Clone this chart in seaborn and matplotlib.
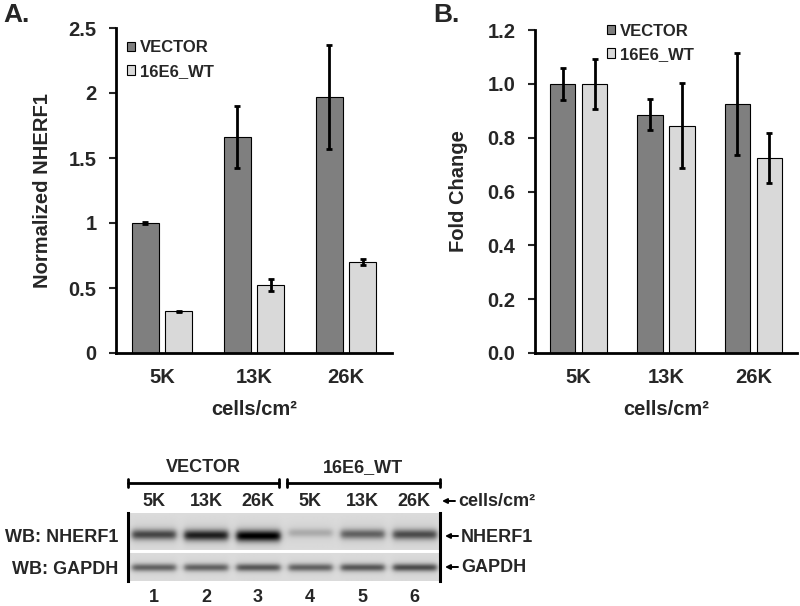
import numpy as np
import pandas as pd
import matplotlib
matplotlib.use("Agg")
import matplotlib.pyplot as plt
from matplotlib.patches import Patch
import seaborn as sns

# categories
densities = ["5K", "13K", "26K"]
groups = ["VECTOR", "16E6_WT"]

# panel A: normalized NHERF1 (mean, error)
a_vector = [1.00, 1.66, 1.97]
a_vector_err = [0.005, 0.24, 0.40]
a_wt = [0.32, 0.52, 0.70]
a_wt_err = [0.006, 0.046, 0.022]

# panel B: fold change (mean, error)
b_vector = [1.00, 0.885, 0.924]
b_vector_err = [0.06, 0.057, 0.19]
b_wt = [1.00, 0.845, 0.724]
b_wt_err = [0.093, 0.158, 0.093]

a_ticks = [0, 0.5, 1, 1.5, 2, 2.5]
a_ticklabels = ["0", "0.5", "1", "1.5", "2", "2.5"]
b_ticks = [0.0, 0.2, 0.4, 0.6, 0.8, 1.0, 1.2]
b_ticklabels = ["0.0", "0.2", "0.4", "0.6", "0.8", "1.0", "1.2"]

# western blot: band darkness per lane (0 = no band, 1 = black)
lane_numbers = ["1", "2", "3", "4", "5", "6"]
lane_density = densities * 2
nherf1_band = [0.52, 0.66, 0.78, 0.16, 0.42, 0.50]
gapdh_band = [0.44, 0.44, 0.48, 0.44, 0.48, 0.52]

dark = "#7f7f7f"
light = "#d9d9d9"

sns.set_style("white")
plt.rcParams["font.family"] = ["Liberation Sans", "DejaVu Sans"]
plt.rcParams["font.weight"] = "bold"
plt.rcParams["axes.labelweight"] = "bold"

W, H = 800, 606
fig = plt.figure(figsize=(W / 100, H / 100), dpi=100)


def box(l, t, r, b):
    return [l / W, 1 - b / H, (r - l) / W, (b - t) / H]


def bar_panel(ax, vec, vec_err, wt, wt_err):
    df = pd.DataFrame({
        "density": densities * 2,
        "group": [groups[0]] * 3 + [groups[1]] * 3,
        "value": vec + wt,
    })
    sns.barplot(data=df, x="density", y="value", hue="group", order=densities,
                hue_order=groups, palette=[dark, light], width=0.73, gap=0.2,
                edgecolor="black", linewidth=0.8, errorbar=None, legend=False, ax=ax)
    for cont, errs in zip(ax.containers, [vec_err, wt_err]):
        for bar, e in zip(cont, errs):
            ax.errorbar(bar.get_x() + bar.get_width() / 2, bar.get_height(), yerr=e,
                        fmt="none", ecolor="black", elinewidth=2, capsize=2.5, capthick=2)
    sns.despine(ax=ax)
    for s in ["left", "bottom"]:
        ax.spines[s].set_linewidth(2)
        ax.spines[s].set_color("black")
    ax.tick_params(axis="y", left=True, length=5, width=1.5, labelsize=14.5, pad=9)
    ax.tick_params(axis="x", length=0, labelsize=14.5, pad=11)
    ax.set_xlabel("cells/cm²", fontsize=14.5, labelpad=9)
    ax.set_xlim(-0.5, 2.5)
    handles = [Patch(facecolor=dark, edgecolor="black", linewidth=0.8),
               Patch(facecolor=light, edgecolor="black", linewidth=0.8)]
    return handles


leg_kw = dict(loc="upper left", frameon=False, borderaxespad=0, borderpad=0,
              handlelength=0.5, handleheight=0.5, handletextpad=0.25,
              labelspacing=0.5, prop={"size": 12, "weight": "bold"})

# panel A
axA = fig.add_axes(box(116, 28, 392, 353))
hA = bar_panel(axA, a_vector, a_vector_err, a_wt, a_wt_err)
axA.set_ylim(0, 2.5)
axA.set_yticks(a_ticks, a_ticklabels)
axA.set_ylabel("Normalized NHERF1", fontsize=14.5, labelpad=12)
axA.legend(hA, groups, bbox_to_anchor=(0.04, 0.962), **leg_kw)

# panel B
axB = fig.add_axes(box(535, 30, 797, 353))
hB = bar_panel(axB, b_vector, b_vector_err, b_wt, b_wt_err)
axB.set_ylim(0, 1.2)
axB.set_yticks(b_ticks, b_ticklabels)
axB.set_ylabel("Fold Change", fontsize=14.5, labelpad=14)
axB.legend(hB, groups, bbox_to_anchor=(0.275, 1.02), **leg_kw)

fig.text(3 / W, 1 - 15 / H, "A.", fontsize=19, fontweight="bold", va="center", ha="left")
fig.text(433 / W, 1 - 15 / H, "B.", fontsize=19, fontweight="bold", va="center", ha="left")

# western blot image (rows in pixels, columns in lanes)
nrow, ncol = 68, 312
xs = (np.arange(ncol) + 0.5) / ncol * 6
ys = np.arange(nrow) + 0.5
X, Y = np.meshgrid(xs, ys)
img = np.full((nrow, ncol), 0.86)
img[:38] -= 0.015 * np.exp(-((Y[:38] - 21) / 12) ** 2)
for i in range(6):
    c = i + 0.5
    prof = 0.5 * (np.tanh((X - (c - 0.42)) / 0.06) - np.tanh((X - (c + 0.42)) / 0.06))
    yc = 19 + 5 * nherf1_band[i]
    top = nherf1_band[i] * np.exp(-((Y - yc) / (4.0 + 2.0 * nherf1_band[i])) ** 2)
    halo = 0.10 * nherf1_band[i] * np.exp(-((Y - yc) / 11) ** 2)
    img -= (top + halo) * prof * (Y < 38)
    bot = gapdh_band[i] * np.exp(-((Y - 54.5) / 3.8) ** 2)
    halo2 = 0.08 * gapdh_band[i] * np.exp(-((Y - 54.5) / 9) ** 2)
    img -= (bot + halo2) * prof * (Y > 40)
img[37:40] = 1.0
img = np.clip(img, 0, 1)

axW = fig.add_axes(box(128, 513, 440, 581))
axW.imshow(img, cmap="gray", vmin=0, vmax=1, extent=(0, 6, nrow, 0),
           aspect="auto", interpolation="bilinear")
axW.set_xlim(0, 6)
axW.set_ylim(nrow, 0)
axW.set_xticks([])
axW.set_yticks([])
for s in ["top", "bottom"]:
    axW.spines[s].set_visible(False)
for s in ["left", "right"]:
    axW.spines[s].set_visible(True)
    axW.spines[s].set_linewidth(2.2)
    axW.spines[s].set_color("black")

fs = 13
lane_px = 312 / 6
for i in range(6):
    axW.text(i + 0.5, 502 - 513, lane_density[i], ha="center", va="center",
             fontsize=fs, fontweight="bold", clip_on=False)
    axW.text(i + 0.5, 597 - 513, lane_numbers[i], ha="center", va="center",
             fontsize=fs, fontweight="bold", clip_on=False)

# group brackets
br_y = 483 - 513
spans = [(0, (279 - 128) / lane_px), ((287 - 128) / lane_px, 6)]
for (x0, x1), g in zip(spans, groups):
    axW.plot([x0, x1], [br_y, br_y], color="black", lw=2, clip_on=False)
    for xe in (x0, x1):
        axW.plot([xe, xe], [br_y - 4, br_y + 4], color="black", lw=2, clip_on=False)
    axW.text((x0 + x1) / 2, 468 - 513, g, ha="center", va="center",
             fontsize=fs, fontweight="bold", clip_on=False)

# right-hand markers with arrows
markers = [("cells/cm²", 502, 442), ("NHERF1", 537, 445), ("GAPDH", 568, 445)]
for label, ypix, xpix in markers:
    x_tip = (xpix - 128) / lane_px
    x_tail = (xpix + 13 - 128) / lane_px
    axW.annotate("", xy=(x_tip, ypix - 513 - 1), xytext=(x_tail, ypix - 513 - 1),
                 arrowprops=dict(arrowstyle="-|>", color="black", lw=1.4,
                                 mutation_scale=7, shrinkA=0, shrinkB=0),
                 annotation_clip=False)
    axW.text((xpix + 16 - 128) / lane_px, ypix - 513, label, ha="left", va="center",
             fontsize=fs, fontweight="bold", clip_on=False)

lx = (118 - 128) / lane_px
axW.text(lx, 537 - 513, "WB: NHERF1", ha="right", va="center", fontsize=fs,
         fontweight="bold", clip_on=False)
axW.text(lx, 570 - 513, "WB: GAPDH", ha="right", va="center", fontsize=fs,
         fontweight="bold", clip_on=False)

fig.savefig("out.png", dpi=100)
